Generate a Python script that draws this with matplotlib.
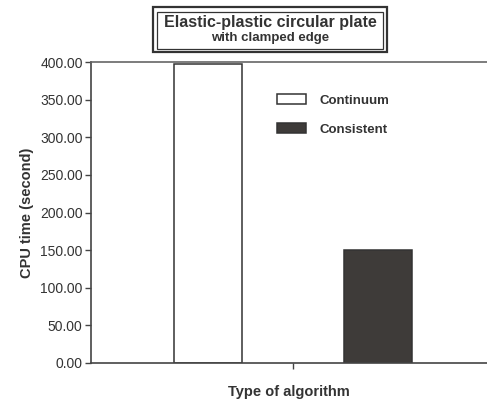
import matplotlib
matplotlib.use("Agg")
import matplotlib.pyplot as plt
from matplotlib.patches import Rectangle

plt.rcParams["font.family"] = ["Liberation Sans", "DejaVu Sans"]

# values
algorithms = ["Continuum", "Consistent"]
cpu_time = [398.0, 150.0]
y_ticks = [0, 50, 100, 150, 200, 250, 300, 350, 400]
title_main = "Elastic-plastic circular plate"
title_sub = "with clamped edge"

fill_colors = ["white", "#3e3b39"]
text_color = "#333333"
line_color = "#444444"

fig = plt.figure(figsize=(4.87, 4.07), dpi=100)
ax = fig.add_axes([91 / 487, 44 / 407, 1 - 91 / 487, 301 / 407])

offsets = [-0.5, 0.5]
for off, val, col, name in zip(offsets, cpu_time, fill_colors, algorithms):
    ax.bar(off, val, width=0.4, color=col, edgecolor="#333333",
           linewidth=1.1, label=name)

ax.set_xlim(-1.188, 1.141)
ax.set_ylim(0, 400)
ax.set_yticks(y_ticks)
ax.set_yticklabels([f"{v:.2f}" for v in y_ticks], fontsize=10, color=text_color)
ax.set_xticks([0])
ax.set_xticklabels([""])
ax.tick_params(axis="both", direction="out", length=4, width=1,
               color=line_color, pad=2)

ax.spines["right"].set_visible(False)
for side in ("left", "bottom"):
    ax.spines[side].set_color(line_color)
    ax.spines[side].set_linewidth(1.2)
ax.spines["top"].set_color("#666666")
ax.spines["top"].set_linewidth(1.2)

ax.set_ylabel("CPU time (second)", fontsize=10.5, fontweight="bold",
              color=text_color, labelpad=4)
ax.set_xlabel("Type of algorithm", fontsize=10.5, fontweight="bold",
              color=text_color, labelpad=10)

leg = ax.legend(loc="upper left", bbox_to_anchor=(0.47, 0.893), frameon=False,
                prop={"size": 9.5, "weight": "bold"}, handlelength=2.2,
                handleheight=0.75, handletextpad=1.0, labelspacing=1.25,
                borderpad=0, borderaxespad=0)
for t in leg.get_texts():
    t.set_color(text_color)

# double framed title box
W, H = 487, 407
fig.patches.append(Rectangle((153 / W, 1 - 52 / H), 234 / W, 45 / H,
                             transform=fig.transFigure, fill=False,
                             edgecolor="#333333", linewidth=1.6))
fig.patches.append(Rectangle((157 / W, 1 - 49 / H), 226 / W, 37 / H,
                             transform=fig.transFigure, fill=False,
                             edgecolor="#333333", linewidth=0.9))
fig.text(270 / W, 1 - 22 / H, title_main, ha="center", va="center",
         fontsize=11.5, fontweight="bold", color=text_color)
fig.text(270 / W, 1 - 38.5 / H, title_sub, ha="center", va="center",
         fontsize=9.5, fontweight="bold", color=text_color)

fig.savefig("out.png", dpi=100)
